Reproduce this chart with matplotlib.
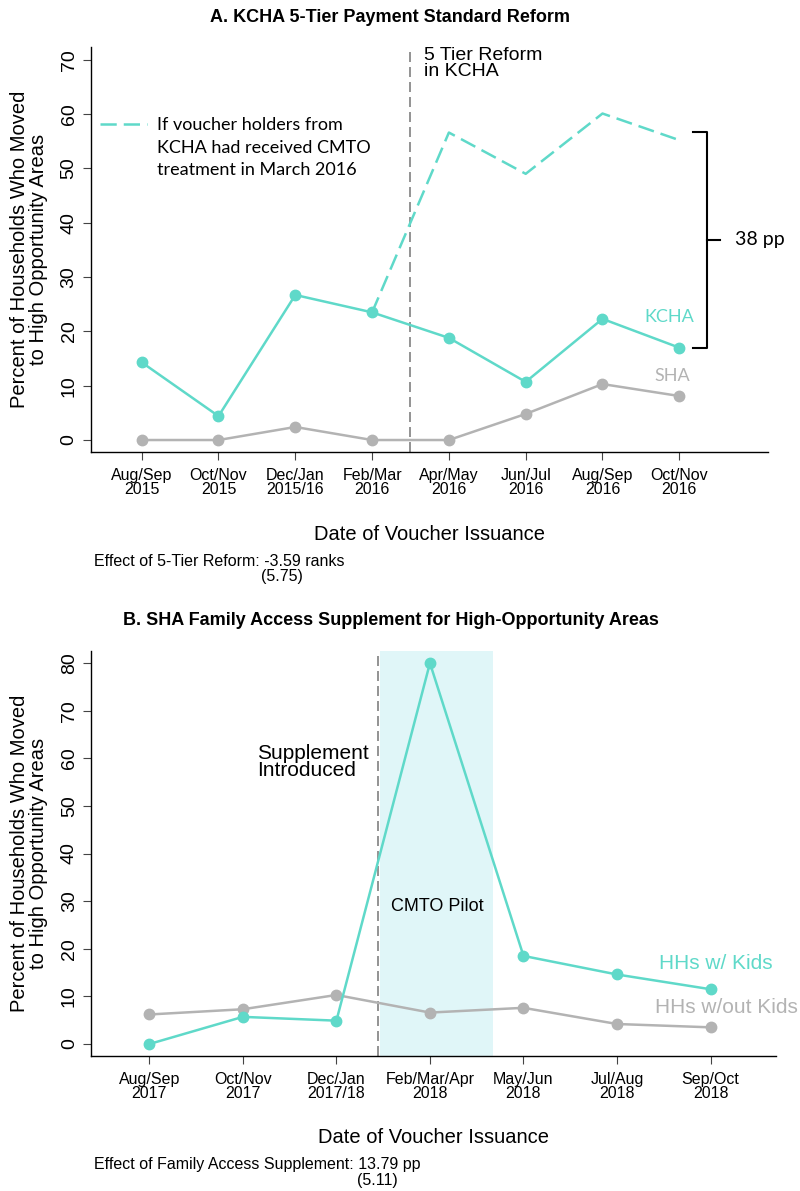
import numpy as np
import matplotlib.pyplot as plt
from matplotlib.lines import Line2D

plt.rcParams['font.family'] = ['Liberation Sans', 'DejaVu Sans']
CAL = ['Lato', 'DejaVu Sans']

TEAL = '#5fd9c9'
GRAY = '#b3b3b3'
DGRAY = '#808080'

# panel A: KCHA 5-tier reform
periods_a = ['Aug/Sep\n2015', 'Oct/Nov\n2015', 'Dec/Jan\n2015/16', 'Feb/Mar\n2016',
             'Apr/May\n2016', 'Jun/Jul\n2016', 'Aug/Sep\n2016', 'Oct/Nov\n2016']
kcha = [14.3, 4.4, 26.7, 23.5, 18.8, 10.7, 22.3, 17.0]
sha = [0, 0, 2.4, 0, 0, 4.8, 10.3, 8.1]
cmto_from = 3
kcha_cmto = [23.5, 56.6, 49.0, 60.1, 55.2]
reform_at = 3.5
gap_label = '38 pp'
legend_lines = ['If voucher holders from', 'KCHA had received CMTO',
                'treatment in March 2016']

# panel B: SHA family access supplement
periods_b = ['Aug/Sep\n2017', 'Oct/Nov\n2017', 'Dec/Jan\n2017/18', 'Feb/Mar/Apr\n2018',
             'May/Jun\n2018', 'Jul/Aug\n2018', 'Sep/Oct\n2018']
with_kids = [0, 5.7, 4.9, 80.0, 18.5, 14.6, 11.5]
without_kids = [6.2, 7.3, 10.3, 6.6, 7.6, 4.2, 3.5]
supplement_at = 2.443
pilot_span = (2.467, 3.673)

W, H = 800, 1191
fig = plt.figure(figsize=(8, 11.91), dpi=100)


def px_axes(l, t, r, b):
    return fig.add_axes([l / W, 1 - b / H, (r - l) / W, (b - t) / H])


def stata_axes(ax, labels, yticks):
    for s in ['top', 'right']:
        ax.spines[s].set_visible(False)
    for s in ['left', 'bottom']:
        ax.spines[s].set_linewidth(1.0)
    ax.set_xticks(range(len(labels)))
    ax.set_xticklabels(labels, fontsize=11.5, linespacing=0.9)
    ax.set_yticks(yticks)
    ax.set_yticklabels([str(v) for v in yticks], fontsize=14, rotation=90, va='center')
    ax.tick_params(direction='out', length=5.5, width=0.8, color='#444444', pad=4)
    ax.tick_params(axis='x', pad=6)


def ylab(ax_top, ax_bot):
    fig.text(29 / W, 1 - (ax_top + ax_bot) / 2 / H,
             'Percent of Households Who Moved\nto High Opportunity Areas',
             rotation=90, ha='center', va='center', fontsize=14.5, linespacing=1.0)


# ---------------- panel A ----------------
ax = px_axes(90.7, 46.7, 768, 452.3)
ax.set_xlim(-0.664, 8.155)
ax.set_ylim(-2.26, 72.4)
stata_axes(ax, periods_a, list(range(0, 71, 10)))

x_a = np.arange(len(periods_a))
ax.axvline(reform_at, color=DGRAY, lw=1.2, ls=(0, (6, 3)), zorder=1)
ax.plot(x_a[cmto_from:], kcha_cmto, color=TEAL, lw=1.8, ls=(0, (6.5, 2.8)), zorder=2)
ax.plot(x_a, sha, color=GRAY, lw=1.8, marker='o', ms=7.5, zorder=3)
ax.plot(x_a, kcha, color=TEAL, lw=1.8, marker='o', ms=7.5, zorder=4)

# brace between counterfactual and actual KCHA at the last period
top, bot = kcha_cmto[-1] + 1.5, kcha[-1]
mid = (top + bot) / 2
bx0, bx1, bx2 = 7.18, 7.36, 7.53
ax.plot([bx0, bx1, bx1, bx0], [top, top, bot, bot], color='black', lw=1.5,
        solid_joinstyle='round', clip_on=False)
ax.plot([bx1, bx2], [mid, mid], color='black', lw=1.5, clip_on=False)
ax.text(7.725, mid, gap_label, fontsize=14, family=CAL, va='center', ha='left')

ax.text(6.875, 22.6, 'KCHA', color=TEAL, fontsize=13, family=CAL, ha='center', va='center')
ax.text(6.91, 11.7, 'SHA', color=GRAY, fontsize=13, family=CAL, ha='center', va='center')
ax.text(3.676, 69.3, '5 Tier Reform\nin KCHA', fontsize=14, ha='left', va='center',
        linespacing=0.95)

# legend: dashed handle on the first line only
handles = [Line2D([], [], color=TEAL, lw=1.8, ls=(0, (6.5, 2.8)))]
handles += [Line2D([], [], color='none') for _ in legend_lines[1:]]
ax.legend(handles, legend_lines,
          loc='upper left', bbox_to_anchor=(0.0137, 0.826), frameon=False,
          handlelength=2.6, handletextpad=0.55, borderpad=0, borderaxespad=0,
          labelspacing=0.36, prop={'family': CAL, 'size': 13})

ylab(46.7, 452.3)
fig.text(390 / W, 1 - 17.3 / H, 'A. KCHA 5-Tier Payment Standard Reform',
         fontsize=13, fontweight='bold', ha='center', va='center')
fig.text(429.4 / W, 1 - 535 / H, 'Date of Voucher Issuance', fontsize=14.5,
         ha='center', va='center')
fig.text(94 / W, 1 - 561 / H, 'Effect of 5-Tier Reform: -3.59 ranks', fontsize=11.5,
         ha='left', va='center')
fig.text(282 / W, 1 - 576.7 / H, '(5.75)', fontsize=11.5, ha='center', va='center')

# ---------------- panel B ----------------
bx = px_axes(91, 650.7, 776, 1056)
bx.set_xlim(-0.624, 6.70)
bx.set_ylim(-2.52, 82.6)
stata_axes(bx, periods_b, list(range(0, 81, 10)))

x_b = np.arange(len(periods_b))
bx.axvspan(*pilot_span, color='#e0f6f8', lw=0, zorder=0)
bx.axvline(supplement_at, color=DGRAY, lw=1.2, ls=(0, (6, 3)), zorder=1)
bx.plot(x_b, without_kids, color=GRAY, lw=1.8, marker='o', ms=7.5, zorder=3)
bx.plot(x_b, with_kids, color=TEAL, lw=1.8, marker='o', ms=7.5, zorder=4)

bx.text(1.152, 59.3, 'Supplement\nIntroduced', fontsize=15, ha='left', va='center',
        linespacing=0.85)
bx.text(3.077, 28.8, 'CMTO Pilot', fontsize=13, ha='center', va='center')
bx.text(5.45, 17.0, 'HHs w/ Kids', color=TEAL, fontsize=15, ha='left', va='center')
bx.text(5.41, 7.6, 'HHs w/out Kids', color=GRAY, fontsize=15, ha='left', va='center')

ylab(650.7, 1056)
fig.text(391 / W, 1 - 620.7 / H,
         'B. SHA Family Access Supplement for High-Opportunity Areas',
         fontsize=13, fontweight='bold', ha='center', va='center')
fig.text(433.5 / W, 1 - 1137.3 / H, 'Date of Voucher Issuance', fontsize=14.5,
         ha='center', va='center')
fig.text(94 / W, 1 - 1165 / H, 'Effect of Family Access Supplement: 13.79 pp',
         fontsize=11.5, ha='left', va='center')
fig.text(377.7 / W, 1 - 1181 / H, '(5.11)', fontsize=11.5, ha='center', va='center')

fig.savefig('out.png', dpi=100)
